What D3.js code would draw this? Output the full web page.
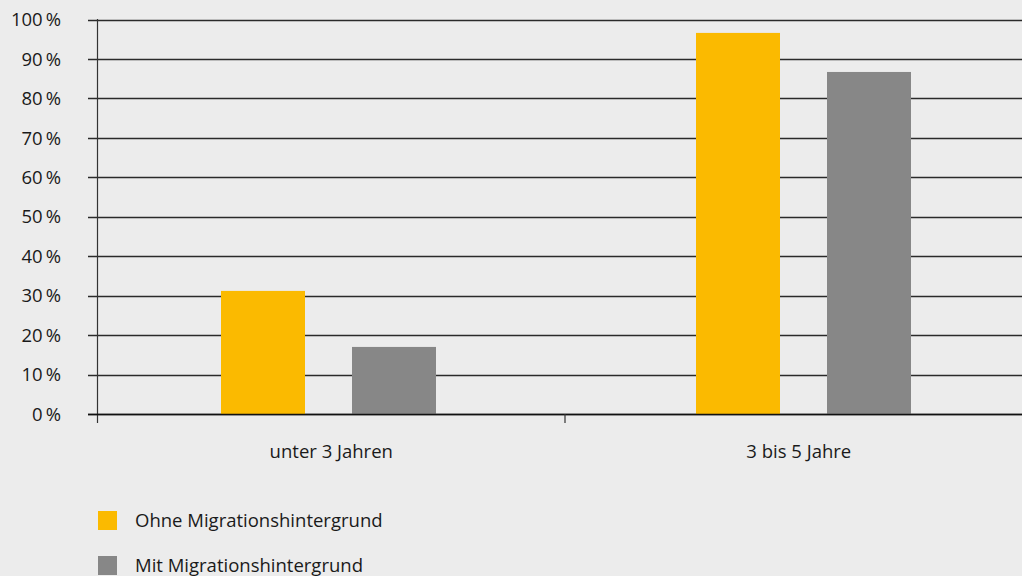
<!DOCTYPE html>
<html><head><meta charset="utf-8">
<script src="https://cdn.jsdelivr.net/npm/d3@7"></script>
<style>
html,body{margin:0;padding:0;background:#ececec;}
svg{display:block;font-family:"Open Sans","Noto Sans",sans-serif;}
</style></head>
<body>
<svg id="chart" width="1022" height="576"></svg>
<script>
const categories = ["unter 3 Jahren", "3 bis 5 Jahre"];
const seriesNames = ["Ohne Migrationshintergrund", "Mit Migrationshintergrund"];
const ohneValues = [31.2, 96.6];
const mitValues = [17.0, 86.7];
const yTicks = [0,10,20,30,40,50,60,70,80,90,100];
const colors = ["#fbba00", "#878787"];

(function(){
const svg = d3.select("#chart");
svg.append("rect").attr("width",1022).attr("height",576).attr("fill","#ececec");

const mLeft = 97.5, mRight = 1032.5, mTop = 19.5, mBottom = 414;
// axis / label band scale
const xAxis = d3.scaleBand().domain(categories).range([mLeft, mRight]);
// bar group placement scale
const xBars = d3.scaleBand().domain(categories).range([91, 1041]);
const y = d3.scaleLinear().domain([0,100]).range([mBottom, mTop]);
const inner = d3.scaleBand().domain(seriesNames).range([0, 215]).paddingInner(47/131);

// gridlines
svg.append("g").selectAll("line").data(yTicks).join("line")
  .attr("x1", 88).attr("x2", 1022)
  .attr("y1", d => Math.round(y(d)) + 0.5).attr("y2", d => Math.round(y(d)) + 0.5)
  .attr("stroke", "#2a2a2a").attr("stroke-width", 1.4);

// y tick labels
svg.append("g").selectAll("text").data(yTicks).join("text")
  .attr("x", 61).attr("y", d => y(d)).attr("dy", "0.36em")
  .attr("text-anchor", "end").attr("font-size", 18.5).attr("fill", "#1a1a1a")
  .text(d => d + "\u2009%");

// bars
const data = categories.map((c,i) => ({cat:c, vals:[ohneValues[i], mitValues[i]]}));
const groups = svg.append("g").selectAll("g").data(data).join("g")
  .attr("transform", d => `translate(${xBars(d.cat) + xBars.bandwidth()/2 - 107.5},0)`);
groups.selectAll("rect").data(d => d.vals.map((v,j) => ({s:seriesNames[j], v, j})))
  .join("rect")
  .attr("x", d => inner(d.s)).attr("width", inner.bandwidth())
  .attr("y", d => y(d.v)).attr("height", d => mBottom - y(d.v))
  .attr("fill", d => colors[d.j]);

// axis lines
svg.append("line").attr("x1", mLeft).attr("x2", mLeft).attr("y1", 19).attr("y2", 423)
  .attr("stroke", "#333").attr("stroke-width", 1.2);
svg.append("line").attr("x1", 88).attr("x2", 1022).attr("y1", mBottom + 0.5).attr("y2", mBottom + 0.5)
  .attr("stroke", "#111").attr("stroke-width", 1.4);
svg.append("g").selectAll("line").data(categories.slice(1)).join("line")
  .attr("x1", d => xAxis(d)).attr("x2", d => xAxis(d)).attr("y1", mBottom).attr("y2", 423)
  .attr("stroke", "#333").attr("stroke-width", 1.2);

// category labels
svg.append("g").selectAll("text").data(categories).join("text")
  .attr("x", d => xAxis(d) + xAxis.bandwidth()/2)
  .attr("y", 458).attr("text-anchor", "middle").attr("font-size", 18.5).attr("fill", "#1a1a1a")
  .text(d => d);

// legend
const leg = svg.append("g").selectAll("g").data(seriesNames).join("g")
  .attr("transform", (d,i) => `translate(98,${511 + i*45})`);
leg.append("rect").attr("width", 19).attr("height", 19).attr("fill", (d,i) => colors[i]);
leg.append("text").attr("x", 37).attr("y", 16).attr("font-size", 18.5).attr("fill", "#1a1a1a").text(d => d);
})();
</script>
</body></html>
